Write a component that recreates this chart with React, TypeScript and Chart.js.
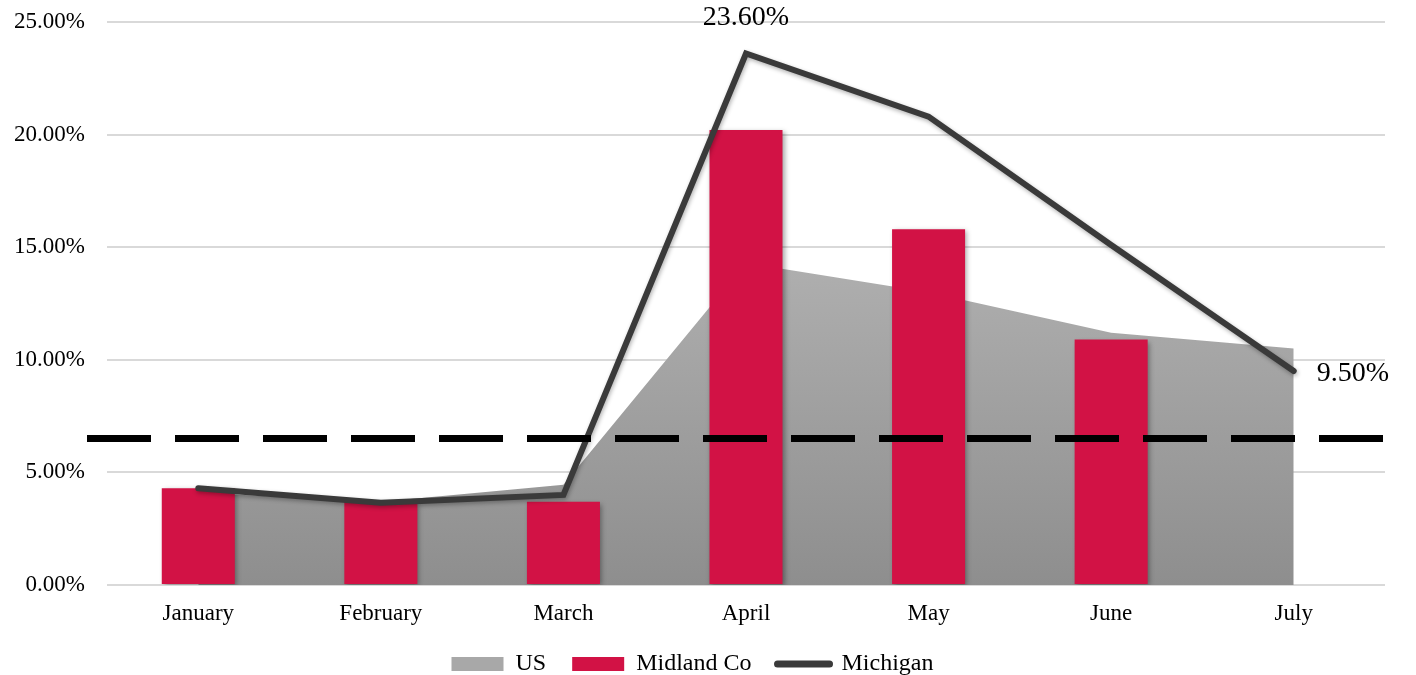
import React, { useEffect, useRef } from "react";
import { Chart, registerables } from "chart.js";

Chart.register(...registerables);

const months = ["January", "February", "March", "April", "May", "June", "July"];
const usRate = [4.1, 3.7, 4.45, 14.3, 13.0, 11.2, 10.5];
const midlandRate = [4.3, 3.7, 3.7, 20.2, 15.8, 10.9, null];
const michiganRate = [4.3, 3.65, 4.0, 23.6, 20.8, 15.1, 9.5];
const referenceLevel = 6.5;
const labelledMichiganIdx = [3, 6];

const FONT = "'Liberation Serif', 'Times New Roman', serif";
const RED = "#D21245";
const LINE = "#3A3A3A";

const pct = (v: number) => v.toFixed(2) + "%";

// Drop shadows for bars and the Michigan line
const shadowPlugin = {
  id: "shadows",
  beforeDatasetDraw(chart: any, args: any) {
    const ctx = chart.ctx;
    ctx.save();
    if (args.index === 1) {
      ctx.shadowColor = "rgba(0,0,0,0.35)";
      ctx.shadowBlur = 5;
      ctx.shadowOffsetX = 2;
      ctx.shadowOffsetY = 2;
    } else if (args.index === 2) {
      ctx.shadowColor = "rgba(0,0,0,0.3)";
      ctx.shadowBlur = 4;
      ctx.shadowOffsetX = 1;
      ctx.shadowOffsetY = 2;
    }
  },
  afterDatasetDraw(chart: any) {
    chart.ctx.restore();
  },
};

// Dashed reference level across the plot
const refLinePlugin = {
  id: "refLine",
  afterDatasetsDraw(chart: any) {
    const { ctx, chartArea, scales } = chart;
    const y = scales.y.getPixelForValue(referenceLevel);
    ctx.save();
    ctx.strokeStyle = "#000";
    ctx.lineWidth = 7;
    ctx.setLineDash([64, 24]);
    ctx.beginPath();
    ctx.moveTo(chartArea.left - 20, y);
    ctx.lineTo(chartArea.right, y);
    ctx.stroke();
    ctx.restore();
  },
};

// Value labels on selected Michigan points
const valueLabelPlugin = {
  id: "valueLabels",
  afterDatasetsDraw(chart: any) {
    const { ctx } = chart;
    const meta = chart.getDatasetMeta(2);
    ctx.save();
    ctx.fillStyle = "#000";
    ctx.font = `28px ${FONT}`;
    labelledMichiganIdx.forEach((i) => {
      const pt = meta.data[i];
      const text = pct(michiganRate[i]);
      ctx.textBaseline = "middle";
      if (i === michiganRate.length - 1) {
        ctx.textAlign = "left";
        ctx.fillText(text, pt.x + 23, pt.y + 3);
      } else {
        ctx.textAlign = "center";
        ctx.fillText(text, pt.x, pt.y - 36);
      }
    });
    ctx.restore();
  },
};

export default function App() {
  const ref = useRef<HTMLCanvasElement>(null);

  useEffect(() => {
    document.body.style.margin = "0";
    const canvas = ref.current!;
    const chart = new Chart(canvas, {
      type: "bar",
      data: {
        labels: months,
        datasets: [
          {
            type: "line",
            label: "US",
            data: usRate,
            fill: "origin",
            borderWidth: 0,
            pointRadius: 0,
            tension: 0,
            order: 3,
            backgroundColor: (c: any) => {
              const area = c.chart.chartArea;
              if (!area) return "#a6a6a6";
              const g = c.chart.ctx.createLinearGradient(0, area.top + 200, 0, area.bottom);
              g.addColorStop(0, "#b3b3b3");
              g.addColorStop(1, "#8e8e8e");
              return g;
            },
          } as any,
          {
            type: "bar",
            label: "Midland Co",
            data: midlandRate,
            backgroundColor: RED,
            barPercentage: 0.4,
            categoryPercentage: 1,
            order: 2,
          },
          {
            type: "line",
            label: "Michigan",
            data: michiganRate,
            borderColor: LINE,
            borderWidth: 6,
            pointRadius: 0,
            tension: 0,
            fill: false,
            borderJoinStyle: "miter",
            borderCapStyle: "round",
            order: 1,
          } as any,
        ],
      },
      options: {
        animation: false,
        responsive: false,
        layout: { padding: { left: 0, right: 31, top: 22, bottom: -11 } },
        scales: {
          x: {
            offset: true,
            grid: { display: false, drawTicks: false },
            border: { display: false },
            ticks: { color: "#000", font: { family: FONT, size: 23 }, padding: 15 },
            afterFit: (s: any) => {
              s.height = 41;
            },
          },
          y: {
            min: 0,
            max: 25,
            ticks: {
              stepSize: 5,
              color: "#000",
              font: { family: FONT, size: 23 },
              padding: 22,
              callback: (v: any) => pct(Number(v)),
            },
            grid: { color: "#d9d9d9", lineWidth: 2, drawTicks: false },
            border: { display: false },
            afterFit: (s: any) => {
              s.width = 107;
              s.paddingTop = 0;
              s.paddingBottom = 0;
            },
          },
        },
        plugins: {
          tooltip: { enabled: false },
          legend: {
            position: "bottom",
            labels: {
              color: "#000",
              font: { family: FONT, size: 24 },
              usePointStyle: true,
              pointStyleWidth: 52,
              boxHeight: 14,
              padding: 26,
              generateLabels: (ch: any) =>
                ch.data.datasets.map((ds: any, i: number) => ({
                  text: ds.label,
                  datasetIndex: i,
                  fillStyle: i === 0 ? "#a8a8a8" : i === 1 ? RED : LINE,
                  strokeStyle: i === 2 ? LINE : "rgba(0,0,0,0)",
                  lineWidth: i === 2 ? 7 : 0,
                  lineCap: "round",
                  pointStyle: i === 2 ? "line" : "rect",
                  fontColor: "#000",
                  hidden: false,
                })),
            },
          },
        },
      },
      plugins: [shadowPlugin, refLinePlugin, valueLabelPlugin],
    });
    return () => chart.destroy();
  }, []);

  return <canvas ref={ref} width={1416} height={675} style={{ display: "block" }} />;
}
